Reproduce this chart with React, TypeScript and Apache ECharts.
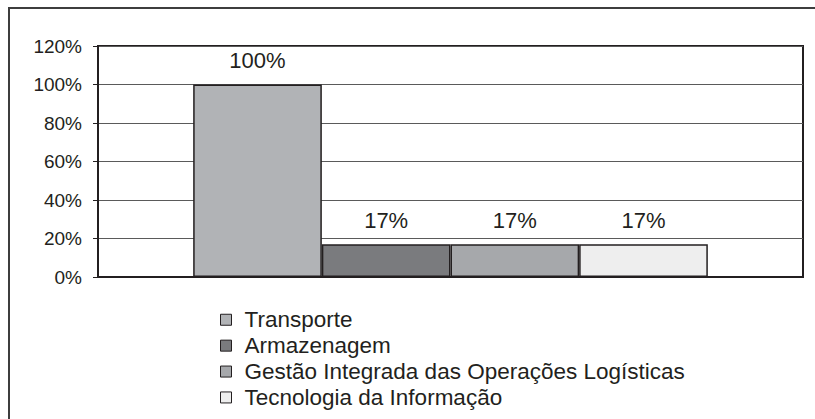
import React, { useEffect, useRef } from "react";
import * as echarts from "echarts";

const categories = [""];
const seriesNames = [
  "Transporte",
  "Armazenagem",
  "Gestão Integrada das Operações Logísticas",
  "Tecnologia da Informação",
];
const seriesValues = [100, 17, 17, 17];
const seriesColors = ["#b1b3b6", "#7a7b7e", "#a6a8ab", "#eeeeee"];
const yTicks = [0, 20, 40, 60, 80, 100, 120];

const FONT = "Liberation Sans";
const INK = "#231f20";

export default function App() {
  const ref = useRef<HTMLDivElement>(null);
  useEffect(() => {
    if (!ref.current) return;
    const chart = echarts.init(ref.current, null, { renderer: "svg" });
    chart.setOption({
      animation: false,
      backgroundColor: "#ffffff",
      graphic: [
        {
          type: "line",
          shape: { x1: 9, y1: 7, x2: 9, y2: 430 },
          style: { stroke: "#3d3d3d", lineWidth: 2 },
          silent: true,
        },
        {
          type: "line",
          shape: { x1: 8, y1: 8, x2: 815, y2: 8 },
          style: { stroke: "#3d3d3d", lineWidth: 2 },
          silent: true,
        },
      ],
      grid: {
        left: 98,
        right: 12,
        top: 46,
        bottom: 142,
        show: true,
        borderColor: INK,
        borderWidth: 2,
        backgroundColor: "#ffffff",
      },
      legend: {
        orient: "vertical",
        left: 215,
        top: 302,
        itemWidth: 11,
        itemHeight: 11,
        itemGap: 0.4,
        icon: "rect",
        data: seriesNames,
        itemStyle: { borderColor: INK, borderWidth: 1 },
        textStyle: {
          fontFamily: FONT,
          fontSize: 22.5,
          color: INK,
          lineHeight: 25.5,
          padding: [0, 0, 0, 8],
        },
      },
      xAxis: {
        type: "category",
        data: categories,
        axisLine: { show: true, lineStyle: { color: INK, width: 2 } },
        axisTick: { show: false },
        axisLabel: { show: false },
      },
      yAxis: {
        type: "value",
        min: yTicks[0],
        max: yTicks[yTicks.length - 1],
        interval: 20,
        axisLine: { show: true, lineStyle: { color: INK, width: 2 } },
        axisTick: { show: true, length: 5, lineStyle: { color: INK } },
        axisLabel: {
          formatter: "{value}%",
          fontFamily: FONT,
          fontSize: 19,
          color: INK,
          margin: 16,
        },
        splitLine: { show: true, lineStyle: { color: "#5a5a5a", width: 1 } },
      },
      series: seriesNames.map((name, i) => ({
        name,
        type: "bar",
        data: [seriesValues[i]],
        barGap: "0%",
        barCategoryGap: "27%",
        itemStyle: {
          color: seriesColors[i],
          borderColor: INK,
          borderWidth: 1.5,
        },
        label: {
          show: true,
          position: "top",
          distance: 13,
          formatter: "{c}%",
          fontFamily: FONT,
          fontSize: 22,
          color: INK,
        },
      })),
    });
    return () => chart.dispose();
  }, []);
  return (
    <div
      ref={ref}
      style={{ position: "fixed", left: 0, top: 0, width: 815, height: 419 }}
    />
  );
}
